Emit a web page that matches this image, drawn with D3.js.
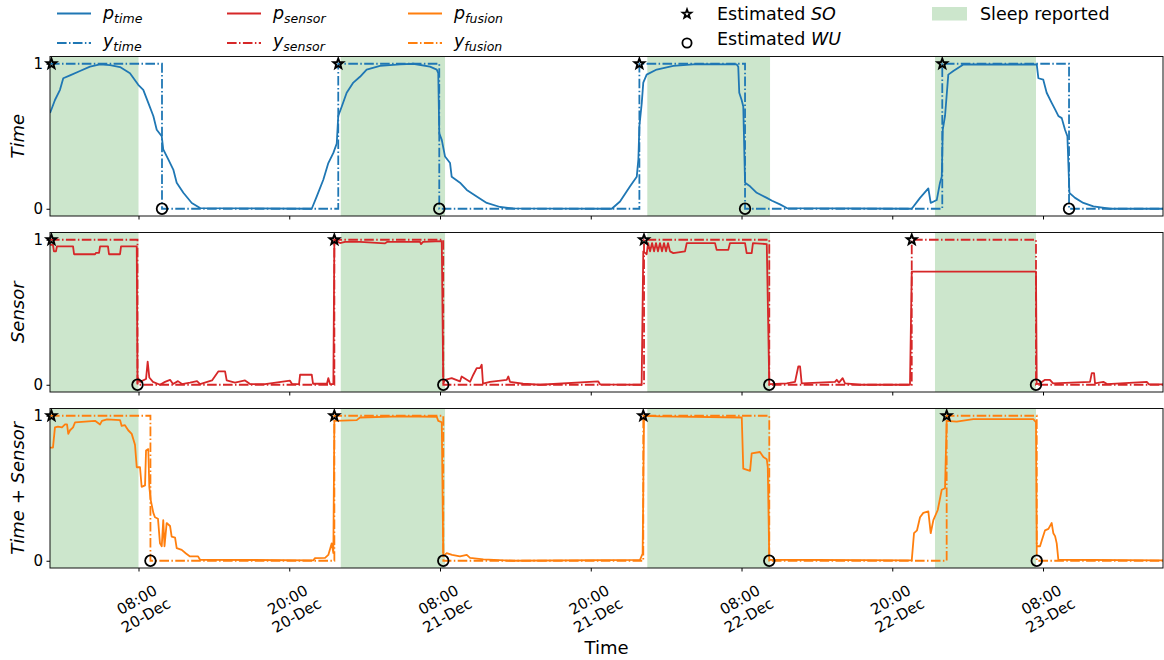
<!DOCTYPE html>
<html>
<head>
<meta charset="utf-8">
<script src="https://cdn.jsdelivr.net/npm/d3@7"></script>
<style>
  body { margin: 0; background: #fff; }
  svg { display: block; font-family: "DejaVu Sans", sans-serif; }
</style>
</head>
<body>
<svg id="chart" width="1164" height="660"></svg>
<script>
// All times are hours since 20-Dec 00:00.
const windowHours = [0.955, 89.55];
const tickHours = [8, 20, 32, 44, 56, 68, 80];

// Reported sleep intervals [start, end]
const sleepReported = [[0.955, 8.0], [24.10, 32.40], [48.50, 58.27], [71.40, 79.44]];

// Time-only model: probability of sleep
const pTime = [
  [0.96,0.66],[1.35,0.75],[1.75,0.82],[2.01,0.90],[2.55,0.92],[3.34,0.95],[4.14,0.98],[4.94,0.995],
  [5.73,0.99],[6.53,0.977],[7.32,0.935],[7.98,0.855],[8.38,0.82],[8.78,0.73],[9.18,0.64],[9.45,0.545],
  [9.85,0.50],[9.97,0.41],[10.37,0.34],[10.77,0.27],[11.04,0.18],[11.57,0.11],[12.24,0.04],[12.90,0.005],
  [21.79,0],[22.19,0.085],[22.71,0.20],[23.11,0.315],[23.51,0.385],[23.78,0.45],[23.90,0.64],[24.18,0.705],
  [24.57,0.80],[25.10,0.87],[25.63,0.91],[26.16,0.96],[27.22,0.985],[28.82,0.995],[29.87,1.0],[31.20,0.98],
  [31.74,0.96],[31.86,0.935],[31.94,0.52],[32.14,0.475],[32.40,0.36],[32.80,0.315],[32.93,0.22],[33.59,0.18],
  [34.13,0.13],[34.92,0.085],[35.72,0.04],[36.78,0.012],[37.84,0.002],[45.67,0],[46.33,0.05],[47.13,0.155],
  [47.66,0.22],[47.79,0.34],[47.87,0.57],[48.06,0.73],[48.18,0.87],[48.45,0.925],[49.25,0.96],[50.57,0.985],
  [52.43,0.998],[55.62,0.995],[55.74,0.98],[55.82,0.80],[56.01,0.75],[56.14,0.705],[56.28,0.18],[56.68,0.155],
  [57.21,0.11],[58.01,0.075],[58.43,0.055],[59.06,0.03],[59.60,0.005],[69.55,0],[70.21,0.075],[70.87,0.14],
  [71.06,0.04],[71.54,0.06],[71.80,0.18],[71.94,0.22],[72.02,0.545],[72.20,0.64],[72.46,0.925],[72.86,0.95],
  [73.66,0.995],[79.50,0.995],[79.63,0.90],[80.02,0.89],[80.29,0.80],[80.69,0.73],[80.96,0.685],[81.22,0.64],
  [81.49,0.625],[81.75,0.545],[81.94,0.50],[82.10,0.11],[82.55,0.075],[83.21,0.04],[84.01,0.016],[85.33,0],
  [89.55,0]
];

// Sensor-only model
const pSensor = [
  [0.955,0.965],[1.19,0.965],[1.27,0.92],[1.43,0.92],[1.51,0.955],[2.79,0.955],[2.87,0.90],[4.54,0.90],
  [4.62,0.91],[4.86,0.91],[4.94,0.955],[5.57,0.955],[5.65,0.90],[6.53,0.90],[6.61,0.955],[7.86,0.955],
  [7.92,0.01],[7.98,0.046],[8.12,0.02],[8.60,0.04],[8.73,0.16],[8.86,0.05],[9.15,0.02],[9.71,0.0],
  [10.11,0.02],[10.51,0.034],[10.75,0.005],[11.14,0.025],[11.46,0.005],[12.10,0.015],[12.66,0.025],[12.90,0.005],
  [13.85,0.03],[14.35,0.092],[14.89,0.092],[15.02,0.03],[15.68,0.015],[16.48,0.03],[16.88,0.005],[18.07,0.005],
  [20.06,0.028],[20.22,0.005],[20.78,0.005],[20.86,0.069],[21.79,0.069],[21.89,0.007],[23.00,0.007],[23.11,0.046],
  [23.24,0.005],[23.51,0.005],[23.59,1.0],[24.04,0.977],[24.44,0.985],[25.63,0.985],[27.62,0.975],[27.78,0.985],
  [30.41,0.985],[30.49,0.97],[30.65,0.985],[32.14,0.99],[32.26,0.01],[32.40,0.034],[32.93,0.046],[33.59,0.023],
  [33.72,0.057],[34.39,0.02],[34.65,0.069],[34.92,0.115],[35.18,0.115],[35.32,0.138],[35.42,0.007],[35.98,0.02],
  [37.31,0.034],[37.44,0.057],[37.57,0.02],[38.61,0.007],[39.96,0.0],[44.60,0.023],[44.74,0.003],[48.05,0],
  [48.18,0.92],[48.45,0.90],[48.56,0.977],[48.72,0.92],[48.88,0.977],[49.04,0.92],[49.19,0.977],[49.35,0.92],
  [49.51,0.977],[49.67,0.92],[49.83,0.977],[49.99,0.92],[50.15,0.977],[50.31,0.92],[50.57,0.908],[51.50,0.92],
  [51.64,0.977],[53.89,0.977],[54.02,0.93],[54.95,0.93],[55.08,0.977],[56.28,0.977],[56.41,0.908],[56.81,0.908],
  [56.91,0.977],[58.01,0.97],[58.21,0.0],[58.27,0.005],[59.60,0.01],[60.26,0.02],[60.52,0.126],[60.66,0.126],
  [60.79,0.01],[63.44,0.02],[63.58,0.034],[63.76,0.015],[64.05,0.046],[64.24,0.01],[65.44,0.0],[69.41,0.0],
  [69.55,0.78],[79.44,0.78],[79.50,0.005],[79.76,0.01],[80.16,0.034],[80.55,0.034],[80.80,0.01],[83.74,0.02],
  [83.88,0.08],[84.06,0.08],[84.14,0.01],[84.80,0.02],[85.10,0.005],[88.26,0.02],[88.44,0.003],[89.55,0.003]
];

// Fused time + sensor model
const pFusion = [
  [0.955,0.78],[1.19,0.78],[1.35,0.92],[1.59,0.925],[1.91,0.92],[2.15,0.94],[2.31,0.94],[2.41,0.875],
  [2.55,0.90],[2.79,0.92],[2.95,0.955],[4.54,0.965],[4.94,0.94],[5.09,0.965],[5.49,0.975],[6.53,0.97],
  [6.66,0.93],[6.92,0.935],[7.18,0.90],[7.46,0.875],[7.72,0.80],[7.86,0.645],[8.12,0.645],[8.25,0.51],
  [8.52,0.52],[8.60,0.76],[8.78,0.77],[8.86,0.51],[8.97,0.42],[9.18,0.33],[9.31,0.30],[9.55,0.29],
  [9.71,0.12],[9.85,0.10],[9.97,0.28],[10.07,0.10],[10.24,0.26],[10.51,0.24],[10.64,0.167],[10.91,0.16],
  [11.04,0.087],[11.44,0.075],[11.78,0.05],[12.10,0.03],[12.74,0.03],[12.90,0.007],[21.91,0.003],[22.05,0.018],
  [22.85,0.02],[23.11,0.04],[23.38,0.12],[23.51,0.053],[23.59,0.965],[25.37,0.97],[25.63,0.988],[28.82,0.995],
  [31.74,0.993],[31.86,0.965],[32.14,0.955],[32.26,0.03],[32.53,0.053],[32.96,0.04],[33.59,0.03],[34.13,0.04],
  [34.39,0.02],[35.45,0.01],[37.84,0.0],[47.92,0.006],[48.13,0.05],[48.24,1.0],[49.51,0.995],[56.02,0.988],
  [56.14,0.635],[56.68,0.62],[56.81,0.74],[57.47,0.75],[57.74,0.715],[58.01,0.70],[58.09,0.645],[58.21,0.007],
  [69.55,0.003],[69.73,0.19],[69.97,0.21],[70.21,0.30],[70.47,0.33],[70.87,0.34],[71.06,0.19],[71.27,0.28],
  [71.62,0.35],[71.94,0.49],[72.20,0.50],[72.33,0.965],[73.13,0.96],[74.45,0.977],[79.23,0.977],[79.44,0.955],
  [79.50,0.10],[79.76,0.10],[79.90,0.14],[80.16,0.21],[80.43,0.22],[80.69,0.26],[80.82,0.19],[80.96,0.17],
  [81.09,0.12],[81.22,0.007],[89.55,0.003]
];

// Estimated sleep onset (SO) and wake-up (WU) times per model
const soTime   = [1.07, 23.90, 47.87, 71.98];
const wuTime   = [9.87, 31.94, 56.28, 82.07];
const soSensor = [1.07, 23.59, 48.24, 69.55];
const wuSensor = [7.92, 32.26, 58.21, 79.44];
const soFusion = [1.07, 23.59, 48.18, 72.33];
const wuFusion = [8.95, 32.26, 58.21, 79.50];

const colors = { time: "#1f77b4", sensor: "#d62728", fusion: "#ff7f0e" };
const sleepFill = "#cce6cc";
const dashDot = "9.6,2.4,1.5,2.4";

const svg = d3.select("#chart");
const left = 50, right = 1163;
const panelTops = [56.5, 232.5, 408.5];
const panelH = 159.5;

const base = new Date(2020, 11, 20, 0, 0);
const toDate = h => new Date(base.getTime() + h * 3.6e6);
const x = d3.scaleTime().domain(windowHours.map(toDate)).range([left, right]);

// Binary sleep/wake state: 1 from each onset until the following wake-up
function stateSeries(so, wu) {
  const pts = [[windowHours[0], 1]];
  wu.forEach((w, i) => {
    pts.push([w, 0]);
    if (so[i + 1] != null) pts.push([so[i + 1], 1]);
  });
  pts.push([windowHours[1], pts[pts.length - 1][1]]);
  return pts;
}

function starPath(R, r) {
  const pts = [];
  for (let k = 0; k < 10; k++) {
    const a = -Math.PI / 2 + k * Math.PI / 5;
    const rr = k % 2 === 0 ? R : r;
    pts.push([rr * Math.cos(a), rr * Math.sin(a)]);
  }
  return "M" + pts.map(p => p[0].toFixed(2) + "," + p[1].toFixed(2)).join("L") + "Z";
}
const star = starPath(5.2, 2.2);

const panels = [
  { label: [["Time", "italic"]], color: colors.time, p: pTime, so: soTime, wu: wuTime },
  { label: [["Sensor", "italic"]], color: colors.sensor, p: pSensor, so: soSensor, wu: wuSensor },
  { label: [["Time", "italic"], [" + ", "normal"], ["Sensor", "italic"]], color: colors.fusion, p: pFusion, so: soFusion, wu: wuFusion }
];

panels.forEach((cfg, i) => {
  const top = panelTops[i], bottom = top + panelH;
  const y = d3.scaleLinear().domain([-0.05, 1.05]).range([bottom, top]);
  const g = svg.append("g");

  const clipId = "clip" + i;
  svg.append("clipPath").attr("id", clipId)
    .append("rect").attr("x", left).attr("y", top).attr("width", right - left).attr("height", panelH);

  // reported sleep shading
  g.append("g").attr("clip-path", `url(#${clipId})`)
    .selectAll("rect").data(sleepReported).join("rect")
    .attr("x", d => x(toDate(d[0])))
    .attr("width", d => x(toDate(d[1])) - x(toDate(d[0])))
    .attr("y", top).attr("height", panelH)
    .attr("fill", sleepFill);

  const line = d3.line().x(d => x(toDate(d[0]))).y(d => y(d[1]));
  const lines = g.append("g").attr("clip-path", `url(#${clipId})`);
  lines.append("path").datum(cfg.p)
    .attr("d", line)
    .attr("fill", "none").attr("stroke", cfg.color).attr("stroke-width", 1.8)
    .attr("stroke-linejoin", "round");
  lines.append("path").datum(stateSeries(cfg.so, cfg.wu))
    .attr("d", line.curve(d3.curveStepAfter))
    .attr("fill", "none").attr("stroke", cfg.color).attr("stroke-width", 1.8)
    .attr("stroke-dasharray", dashDot);

  // estimated onset / wake-up markers
  g.selectAll("path.so").data(cfg.so).join("path").attr("class", "so")
    .attr("d", star)
    .attr("transform", d => `translate(${x(toDate(d))},${y(1)})`)
    .attr("fill", "none").attr("stroke", "#000").attr("stroke-width", 1.9)
    .attr("stroke-linejoin", "miter");
  g.selectAll("circle.wu").data(cfg.wu).join("circle").attr("class", "wu")
    .attr("cx", d => x(toDate(d))).attr("cy", y(0)).attr("r", 5.3)
    .attr("fill", "none").attr("stroke", "#000").attr("stroke-width", 1.8);

  // frame
  g.append("rect").attr("x", left).attr("y", top).attr("width", right - left).attr("height", panelH)
    .attr("fill", "none").attr("stroke", "#111").attr("stroke-width", 1);

  // y axis
  const ya = g.append("g").attr("transform", `translate(${left},0)`)
    .call(d3.axisLeft(y).tickValues([0, 1]).tickFormat(d3.format("d")).tickSize(3.5).tickPadding(3.5));
  ya.select(".domain").remove();
  ya.selectAll("text").attr("font-size", 15).attr("font-family", "DejaVu Sans").attr("fill", "#000");
  ya.selectAll("line").attr("stroke", "#000");

  // x axis
  const xa = g.append("g").attr("transform", `translate(0,${bottom})`)
    .call(d3.axisBottom(x).tickValues(tickHours.map(toDate)).tickSize(3.5).tickFormat(""));
  xa.select(".domain").remove();
  xa.selectAll("line").attr("stroke", "#000");

  if (i === panels.length - 1) {
    const fmtT = d3.timeFormat("%H:%M"), fmtD = d3.timeFormat("%d-%b");
    xa.selectAll(".tick").each(function (d) {
      const t = d3.select(this).append("text")
        .attr("transform", "translate(2,39) rotate(-30)")
        .attr("text-anchor", "middle").attr("font-size", 15).attr("fill", "#000")
        .attr("font-family", "DejaVu Sans");
      t.append("tspan").attr("x", 0).attr("y", -3).text(fmtT(d));
      t.append("tspan").attr("x", 0).attr("y", 15).text(fmtD(d));
    });
  }

  // y label
  const yl = g.append("text")
    .attr("transform", `translate(24,${top + panelH / 2}) rotate(-90)`)
    .attr("text-anchor", "middle").attr("font-size", 18).attr("fill", "#000");
  cfg.label.forEach(([s, st]) => yl.append("tspan").attr("font-style", st).text(s));
});

// x axis title
svg.append("text").attr("x", (left + right) / 2).attr("y", 654)
  .attr("text-anchor", "middle").attr("font-size", 18).attr("fill", "#000").text("Time");

// Legend
const legend = svg.append("g").attr("font-size", 17.5).attr("fill", "#000");
const markY = [13.5, 43];
const seriesLegend = [
  { color: colors.time, sub: "time", x: 57 },
  { color: colors.sensor, sub: "sensor", x: 227 },
  { color: colors.fusion, sub: "fusion", x: 408 }
];
const seriesBase = [19, 47];
seriesLegend.forEach(s => {
  [["p", null], ["y", dashDot]].forEach(([sym, dash], r) => {
    legend.append("line").attr("x1", s.x).attr("x2", s.x + 34)
      .attr("y1", markY[r]).attr("y2", markY[r])
      .attr("stroke", s.color).attr("stroke-width", 1.8)
      .attr("stroke-dasharray", dash);
    const t = legend.append("text").attr("x", s.x + 46).attr("y", seriesBase[r]).attr("font-style", "italic");
    t.append("tspan").text(sym);
    t.append("tspan").attr("font-size", 12.5).attr("dy", 3.5).text(s.sub);
  });
});

legend.append("path").attr("d", starPath(4.6, 1.9))
  .attr("transform", `translate(687,${markY[0] + 0.5})`)
  .attr("fill", "none").attr("stroke", "#000").attr("stroke-width", 1.8);
legend.append("circle").attr("cx", 687).attr("cy", markY[1]).attr("r", 4.6)
  .attr("fill", "none").attr("stroke", "#000").attr("stroke-width", 1.8);
const estBase = [20, 45];
[["Estimated ", "SO"], ["Estimated ", "WU"]].forEach(([a, b], r) => {
  const t = legend.append("text").attr("x", 717).attr("y", estBase[r]);
  t.append("tspan").text(a);
  t.append("tspan").attr("font-style", "italic").text(b);
});

legend.append("rect").attr("x", 932).attr("y", 7).attr("width", 35).attr("height", 13.5).attr("fill", sleepFill);
legend.append("text").attr("x", 980).attr("y", 20).text("Sleep reported");
</script>
</body>
</html>
